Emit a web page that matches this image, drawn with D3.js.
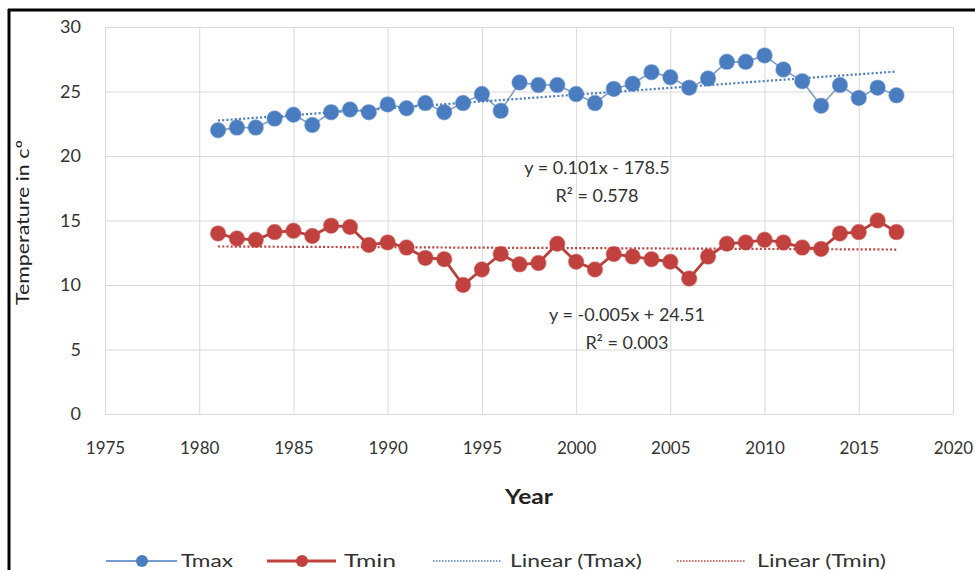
<!DOCTYPE html>
<html>
<head>
  <meta charset='utf-8'>
  <title>Tmax / Tmin</title>
  <script src="https://d3js.org/d3.v7.min.js"></script>
  <style>
    body { margin: 0; background: #fff; }
    text { font-family: Lato, 'Open Sans', sans-serif; fill: #333; }
  </style>
</head>
<body>
  <svg width=975 height=570></svg>
<script>

  // data
  const years = [1981, 1982, 1983, 1984, 1985, 1986, 1987, 1988, 1989, 1990,
                 1991, 1992, 1993, 1994, 1995, 1996, 1997, 1998, 1999, 2000,
                 2001, 2002, 2003, 2004, 2005, 2006, 2007, 2008, 2009, 2010,
                 2011, 2012, 2013, 2014, 2015, 2016, 2017];
  const tmax = [22.0, 22.2, 22.2, 22.9, 23.2, 22.4, 23.4, 23.6, 23.4, 24.0,
                23.7, 24.1, 23.4, 24.1, 24.8, 23.5, 25.7, 25.5, 25.5, 24.8,
                24.1, 25.2, 25.6, 26.5, 26.1, 25.3, 26.0, 27.3, 27.3, 27.8,
                26.7, 25.8, 23.9, 25.5, 24.5, 25.3, 24.7];
  const tmin = [14.0, 13.6, 13.5, 14.1, 14.2, 13.8, 14.6, 14.5, 13.1, 13.3,
                12.9, 12.1, 12.0, 10.0, 11.2, 12.4, 11.6, 11.7, 13.2, 11.8,
                11.2, 12.4, 12.2, 12.0, 11.8, 10.5, 12.2, 13.2, 13.3, 13.5,
                13.3, 12.9, 12.8, 14.0, 14.1, 15.0, 14.1];
  const xTicks = [1975, 1980, 1985, 1990, 1995, 2000, 2005, 2010, 2015, 2020];
  const yTicks = [0, 5, 10, 15, 20, 25, 30];
  const eqMax = ['y = 0.101x  - 178.5', 'R² = 0.578'];
  const eqMin = ['y = -0.005x  + 24.51', 'R² = 0.003'];

  const blue = '#4a7dc0', red = '#c0413e';

  let svg = d3.select('svg');

  let x = d3.scaleLinear().domain([1975, 2020]).range([105, 953]);
  let y = d3.scaleLinear().domain([0, 30]).range([414, 27]);

  // outer frame (only top and left edges are visible)
  svg.append('line').attr('x1', 8).attr('x2', 975).attr('y1', 10).attr('y2', 10)
    .attr('stroke', '#000').attr('stroke-width', 3);
  svg.append('line').attr('x1', 9).attr('x2', 9).attr('y1', 9).attr('y2', 570)
    .attr('stroke', '#000').attr('stroke-width', 3);

  // grid + tick labels
  svg.append('g')
    .attr('transform', 'translate(0,414)')
    .call(d3.axisBottom(x).tickValues(xTicks).tickSize(-387).tickFormat(d => d).tickPadding(28))
    .call(g => g.select('.domain').remove())
    .call(g => g.selectAll('line').attr('stroke', '#d9d9d9'))
    .call(g => g.selectAll('text').attr('font-size', 17).style('font-family', 'Lato').attr('fill', '#222'));

  svg.append('g')
    .attr('transform', 'translate(105,0)')
    .call(d3.axisLeft(y).tickValues(yTicks).tickSize(-848).tickPadding(24))
    .call(g => g.select('.domain').remove())
    .call(g => g.selectAll('line').attr('stroke', '#d9d9d9'))
    .call(g => g.selectAll('text').attr('font-size', 18).style('font-family', 'Lato').attr('fill', '#222'));

  // axis titles
  svg.append('text').attr('x', 505).attr('y', 504)
    .attr('textLength', 48).attr('lengthAdjust', 'spacingAndGlyphs')
    .attr('font-size', 20).attr('font-weight', 'bold').style('fill', '#222').text('Year');
  svg.append('text').attr('transform', 'translate(29,305) rotate(-90)')
    .attr('textLength', 165).attr('lengthAdjust', 'spacingAndGlyphs')
    .attr('font-size', 18).style('fill', '#222').text('Temperature in cº');

  // least squares trend, like the spreadsheet's linear trendline
  function trend(vals) {
    let mx = d3.mean(years), my = d3.mean(vals);
    let sxy = d3.sum(years, (d, i) => (d - mx) * (vals[i] - my));
    let sxx = d3.sum(years, d => (d - mx) * (d - mx));
    let b = sxy / sxx, a = my - b * mx;
    return [years[0], years[years.length - 1]].map(d => [d, a + b * d]);
  }

  let line = d3.line().x(d => x(d[0])).y(d => y(d[1]));

  function series(vals, color, width, lineColor) {
    let pts = years.map((d, i) => [d, vals[i]]);
    svg.append('path').datum(pts).attr('d', line)
      .attr('fill', 'none').attr('stroke', lineColor).attr('stroke-width', width);
    svg.append('path').datum(trend(vals)).attr('d', line)
      .attr('fill', 'none').attr('stroke', color).attr('stroke-width', 2.2)
      .attr('stroke-dasharray', '2,2.2');
    svg.append('g').selectAll('circle').data(pts).enter()
      .append('circle')
      .attr('cx', d => x(d[0])).attr('cy', d => y(d[1])).attr('r', 7.5)
      .attr('fill', color).attr('stroke', color).attr('stroke-opacity', 0.5).attr('stroke-width', 1.5);
  }

  series(tmax, blue, 1.6, '#7d9cc8');
  series(tmin, red, 2.8, '#b8403c');

  // trendline labels
  function equation(lines, cx, y0) {
    svg.append('g').selectAll('text').data(lines).enter()
      .append('text').attr('x', cx).attr('y', (d, i) => y0 + i * 28)
      .attr('text-anchor', 'middle').attr('font-size', 18).style('fill', '#333')
      .text(d => d);
  }
  equation(eqMax, 597, 174);
  equation(eqMin, 627, 321);

  // legend
  let legend = svg.append('g').attr('transform', 'translate(0,561)');
  legend.append('line').attr('x1', 106).attr('x2', 177).attr('stroke', blue).attr('stroke-width', 1.6);
  legend.append('circle').attr('cx', 142).attr('r', 6).attr('fill', blue);
  legend.append('text').attr('x', 181).attr('y', 6).attr('textLength', 52).attr('lengthAdjust', 'spacingAndGlyphs')
    .attr('font-size', 18).text('Tmax');
  legend.append('line').attr('x1', 267).attr('x2', 336).attr('stroke', red).attr('stroke-width', 3);
  legend.append('circle').attr('cx', 302).attr('r', 6).attr('fill', red);
  legend.append('text').attr('x', 344).attr('y', 6).attr('textLength', 52).attr('lengthAdjust', 'spacingAndGlyphs')
    .attr('font-size', 18).text('Tmin');
  legend.append('line').attr('x1', 433).attr('x2', 501).attr('stroke', blue).attr('stroke-width', 1.5)
    .attr('stroke-dasharray', '1.5,1.5');
  legend.append('text').attr('x', 510).attr('y', 6).attr('textLength', 132).attr('lengthAdjust', 'spacingAndGlyphs')
    .attr('font-size', 18).text('Linear (Tmax)');
  legend.append('line').attr('x1', 677).attr('x2', 745).attr('stroke', red).attr('stroke-width', 1.5)
    .attr('stroke-dasharray', '1.5,1.5');
  legend.append('text').attr('x', 757).attr('y', 6).attr('textLength', 129).attr('lengthAdjust', 'spacingAndGlyphs')
    .attr('font-size', 18).text('Linear (Tmin)');

</script>
</body>
</html>
